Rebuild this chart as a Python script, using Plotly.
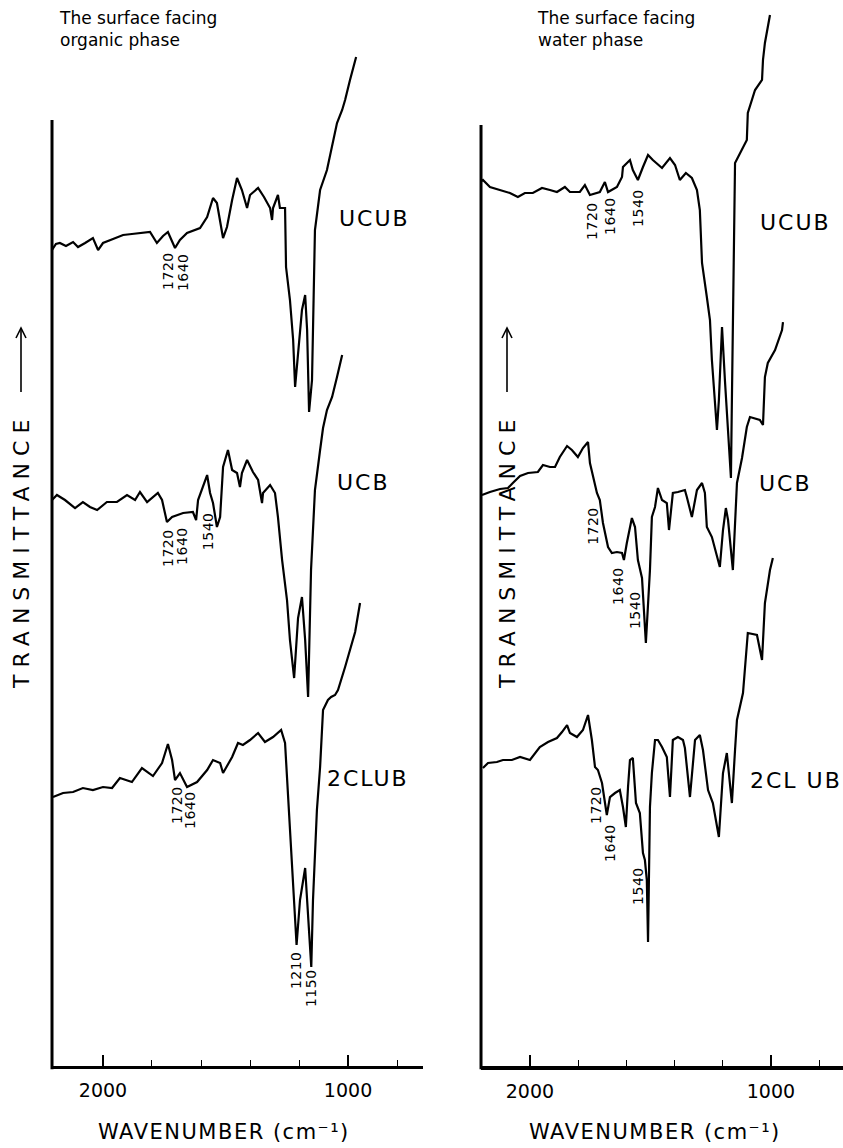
import plotly.graph_objects as go

# ---- IR spectra: wavenumber (cm-1) and transmittance (arbitrary units, curves stacked) ----
# Surface facing the organic phase
org_ucub_wn = [2208, 2192, 2176, 2151, 2122, 2102, 2073, 2041, 2020, 2000, 1959, 1918, 1882, 1849,
               1808, 1780, 1755, 1735, 1706, 1686, 1657, 1604, 1575, 1551, 1535, 1510, 1494, 1473,
               1453, 1433, 1412, 1400, 1367, 1343, 1318, 1310, 1306, 1286, 1278, 1257, 1253, 1237,
               1224, 1216, 1204, 1188, 1175, 1167, 1159, 1147, 1135, 1114, 1086, 1065, 1045, 1024,
               1012, 992, 967]
org_ucub_t = [81.6, 82.2, 82.3, 82.0, 82.4, 81.9, 82.3, 82.8, 81.6, 82.3, 82.7, 83.1, 83.2, 83.3,
              83.4, 82.3, 83.0, 83.4, 81.8, 82.6, 83.3, 83.8, 84.9, 86.8, 86.3, 82.8, 83.9, 86.6,
              88.8, 87.6, 85.8, 87.1, 87.8, 86.9, 85.8, 84.6, 85.8, 87.1, 85.8, 85.8, 79.9, 76.6,
              72.6, 67.9, 71.6, 75.6, 77.1, 73.6, 65.4, 68.6, 83.6, 87.6, 89.6, 91.9, 94.3, 95.6,
              96.6, 98.6, 100.9]

org_ucb_wn = [2208, 2188, 2155, 2114, 2082, 2053, 2024, 1984, 1943, 1902, 1869, 1849, 1820, 1776,
              1759, 1739, 1718, 1673, 1633, 1620, 1612, 1575, 1563, 1551, 1535, 1522, 1510, 1490,
              1473, 1453, 1441, 1433, 1412, 1388, 1367, 1351, 1347, 1318, 1298, 1286, 1269, 1249,
              1237, 1220, 1204, 1188, 1175, 1163, 1151, 1135, 1114, 1102, 1086, 1065, 1045, 1024]
org_ucb_t = [56.6, 57.1, 56.6, 55.8, 56.4, 55.9, 55.6, 56.4, 56.4, 57.1, 56.6, 57.4, 56.4, 57.3,
             56.6, 54.4, 54.9, 55.3, 55.4, 54.6, 56.6, 59.1, 57.3, 56.3, 53.9, 54.9, 59.9, 61.6,
             59.6, 59.3, 57.9, 59.3, 60.6, 59.4, 58.6, 56.3, 57.3, 58.1, 57.3, 54.9, 50.6, 46.6,
             42.6, 38.8, 44.8, 46.9, 42.6, 36.9, 49.6, 57.6, 61.6, 63.8, 65.6, 66.9, 68.9, 71.1]

org_2club_wn = [2204, 2163, 2122, 2082, 2041, 2000, 1963, 1931, 1882, 1841, 1796, 1759, 1735, 1718,
                1706, 1686, 1657, 1616, 1575, 1551, 1522, 1510, 1473, 1449, 1429, 1400, 1367, 1339,
                1306, 1273, 1257, 1245, 1241, 1229, 1210, 1196, 1175, 1167, 1150, 1143, 1127, 1114,
                1102, 1082, 1069, 1053, 1041, 1012, 984, 971, 951]
org_2club_t = [26.9, 27.3, 27.4, 27.8, 27.6, 27.9, 27.8, 28.8, 28.4, 29.8, 29.0, 30.3, 32.2, 30.6,
               28.6, 29.3, 27.9, 28.4, 29.6, 30.6, 30.3, 29.3, 30.9, 32.3, 32.1, 32.6, 33.3, 32.4,
               32.9, 33.6, 32.3, 27.3, 24.6, 19.9, 12.1, 16.6, 19.8, 16.6, 9.9, 16.6, 25.6, 29.9,
               35.6, 36.6, 36.9, 37.1, 37.6, 39.9, 42.4, 43.4, 46.3]

# Surface facing the water phase
wat_ucub_wn = [2207, 2195, 2166, 2124, 2083, 2050, 2021, 1988, 1950, 1917, 1888, 1855, 1834, 1793,
               1772, 1751, 1710, 1689, 1676, 1639, 1618, 1614, 1585, 1573, 1552, 1531, 1510, 1490,
               1452, 1419, 1398, 1378, 1353, 1328, 1307, 1295, 1286, 1266, 1253, 1245, 1224, 1216,
               1203, 1191, 1174, 1166, 1162, 1158, 1149, 1100, 1096, 1066, 1037, 1033, 1025, 1004]
wat_ucub_t = [88.4, 88.6, 87.9, 87.6, 87.3, 86.9, 87.3, 87.3, 87.8, 87.6, 87.4, 87.9, 87.4, 87.4,
              88.1, 87.1, 87.4, 88.4, 87.4, 87.9, 88.9, 89.9, 90.6, 89.6, 88.6, 89.9, 91.1, 90.6,
              89.8, 90.8, 90.1, 88.6, 89.3, 88.8, 87.6, 85.6, 80.3, 76.9, 74.6, 70.6, 63.6, 66.6,
              73.9, 68.6, 62.6, 58.8, 66.6, 75.3, 90.3, 92.6, 95.3, 97.6, 98.6, 100.6, 102.3, 105.1]

wat_ucb_wn = [2199, 2166, 2124, 2091, 2071, 2041, 2008, 1967, 1946, 1917, 1896, 1876, 1846, 1826,
              1801, 1780, 1759, 1751, 1722, 1710, 1697, 1676, 1660, 1639, 1618, 1610, 1598, 1577,
              1564, 1552, 1535, 1531, 1519, 1502, 1494, 1481, 1469, 1452, 1432, 1423, 1407, 1386,
              1357, 1349, 1328, 1307, 1286, 1274, 1266, 1245, 1212, 1199, 1187, 1178, 1158, 1141,
              1120, 1100, 1087, 1046, 1033, 1025, 1013, 983, 954, 950]
wat_ucb_t = [57.1, 57.4, 57.7, 57.8, 58.3, 59.0, 59.3, 59.4, 60.1, 59.9, 59.9, 60.9, 62.0, 61.6,
             60.9, 61.8, 62.4, 60.3, 57.3, 56.6, 54.3, 51.9, 51.3, 51.4, 51.3, 50.6, 52.3, 54.8,
             53.9, 50.6, 48.8, 47.3, 42.3, 49.6, 54.9, 55.9, 57.8, 56.6, 56.3, 53.6, 57.3, 57.4,
             57.6, 56.9, 54.9, 57.6, 58.3, 57.3, 53.9, 52.9, 49.9, 53.6, 55.8, 54.6, 49.6, 58.3,
             60.8, 63.9, 64.9, 64.6, 64.1, 68.9, 70.3, 71.6, 73.6, 74.4]

wat_2club_wn = [2195, 2174, 2137, 2112, 2075, 2041, 2000, 1979, 1959, 1925, 1888, 1867, 1846, 1834,
                1805, 1780, 1759, 1743, 1730, 1718, 1701, 1681, 1668, 1647, 1627, 1614, 1602, 1593,
                1585, 1573, 1560, 1544, 1531, 1523, 1515, 1510, 1502, 1494, 1481, 1469, 1452, 1432,
                1419, 1407, 1386, 1365, 1357, 1336, 1315, 1295, 1282, 1261, 1241, 1216, 1199, 1183,
                1174, 1162, 1149, 1141, 1116, 1100, 1096, 1058, 1037, 1025, 1004, 992]
wat_2club_t = [29.8, 30.3, 30.4, 30.6, 30.6, 30.9, 30.6, 31.3, 31.9, 32.4, 32.8, 33.4, 34.1, 33.3,
               32.9, 33.6, 35.1, 32.6, 29.9, 29.6, 28.3, 25.1, 26.9, 27.3, 27.6, 25.9, 23.9, 27.9,
               30.6, 30.8, 26.3, 25.3, 21.3, 20.6, 18.6, 12.4, 25.9, 29.3, 32.6, 32.6, 31.9, 30.9,
               26.9, 32.6, 32.9, 32.6, 31.8, 26.9, 32.6, 33.1, 31.6, 27.6, 26.3, 22.9, 29.3, 31.3,
               29.3, 26.3, 31.6, 34.6, 37.3, 42.6, 43.3, 43.1, 40.6, 46.3, 49.6, 50.8]

# Band labels: (text, wavenumber position, transmittance position)
org_bands = [("1720", 1735, 79.5), ("1640", 1673, 79.4),
             ("1720", 1735, 51.8), ("1640", 1678, 52.0), ("1540", 1571, 53.5),
             ("1720", 1698, 26.1), ("1640", 1645, 25.6),
             ("1210", 1212, 9.6), ("1150", 1151, 7.8)]
wat_bands = [("1720", 1743, 84.5), ("1640", 1668, 85.0), ("1540", 1552, 85.8),
             ("1720", 1739, 54.0), ("1640", 1635, 48.0), ("1540", 1564, 45.6),
             ("1720", 1726, 26.1), ("1640", 1668, 22.3), ("1540", 1552, 18.0)]

# Sample names placed beside each curve: (name, wavenumber, transmittance)
org_names = [("UCUB", 1045, 84.8), ("UCB", 1053, 58.4), ("2CLUB", 1094, 28.8)]
wat_names = [("UCUB", 1054, 84.4), ("UCB", 1058, 58.3), ("2CL UB", 1096, 28.6)]

FONT = "DejaVu Sans"
INK = "black"
W, H = 843, 1148


def spaced(txt, px):
    return f'<span style="letter-spacing:{px}px">{txt}</span>'


fig = go.Figure()


def add_spectrum(wn, t, xa, ya):
    fig.add_trace(go.Scatter(x=wn, y=t, mode="lines", xaxis=xa, yaxis=ya,
                             line=dict(color=INK, width=2.2), showlegend=False,
                             hoverinfo="skip"))


add_spectrum(org_ucub_wn, org_ucub_t, "x", "y")
add_spectrum(org_ucb_wn, org_ucb_t, "x", "y")
add_spectrum(org_2club_wn, org_2club_t, "x", "y")
add_spectrum(wat_ucub_wn, wat_ucub_t, "x2", "y2")
add_spectrum(wat_ucb_wn, wat_ucb_t, "x2", "y2")
add_spectrum(wat_2club_wn, wat_2club_t, "x2", "y2")


def x_axis(domain, rng, anchor, lw):
    return dict(domain=domain, range=rng, anchor=anchor, showline=True, linecolor=INK,
                linewidth=lw, ticks="inside", tickvals=[2000, 1000], ticktext=["2000", "1000"],
                ticklen=11, tickwidth=1.5, tickcolor=INK, showgrid=False, zeroline=False,
                tickfont=dict(family=FONT, size=19, color=INK), ticklabelstandoff=5,
                minor=dict(tickvals=[1800, 1600, 1400, 1200, 800], ticks="inside", ticklen=6,
                           tickwidth=1.2, tickcolor=INK, showgrid=False))


def y_axis(anchor):
    return dict(domain=[0.0714, 1.0], range=[0, 106.6], anchor=anchor, visible=False,
                showgrid=False, zeroline=False)


annotations = []
for items, xr, yr in ((org_bands, "x", "y"), (wat_bands, "x2", "y2")):
    for txt, wn, t in items:
        annotations.append(dict(text=spaced(txt, 0.5), x=wn, y=t, xref=xr, yref=yr,
                                showarrow=False, textangle=-90,
                                font=dict(family=FONT, size=14, color=INK)))
for items, xr, yr in ((org_names, "x", "y"), (wat_names, "x2", "y2")):
    for txt, wn, t in items:
        annotations.append(dict(text=spaced(txt, 2), x=wn, y=t, xref=xr, yref=yr,
                                showarrow=False, xanchor="left",
                                font=dict(family=FONT, size=22, color=INK)))

# Panel headings
for txt, xp in (("The surface facing<br>organic phase", 0.0676),
                ("The surface facing<br>water phase", 0.6346)):
    annotations.append(dict(text=txt, x=xp, y=0.995, xref="paper", yref="paper",
                            xanchor="left", yanchor="top", align="left", showarrow=False,
                            font=dict(family=FONT, size=17, color=INK)))

# Axis titles
for xp in (224 / W, 655 / W):
    annotations.append(dict(text=spaced("WAVENUMBER (cm⁻¹)", 1.5), x=xp,
                            y=1 - 1132 / H, xref="paper", yref="paper", xanchor="center",
                            yanchor="middle", showarrow=False,
                            font=dict(family=FONT, size=21, color=INK)))

shapes = [
    dict(type="line", xref="x domain", yref="y domain", x0=0, x1=0, y0=-0.003, y1=0.8874,
         line=dict(color=INK, width=3)),
    dict(type="line", xref="x2 domain", yref="y2 domain", x0=0, x1=0, y0=-0.003, y1=0.8827,
         line=dict(color=INK, width=3)),
]

# Vertical "TRANSMITTANCE" titles, each with an upward arrow above it
for xpx in (21, 507):
    annotations.append(dict(text=spaced("TRANSMITTANCE", 7), x=xpx / W, y=1 - 551 / H,
                            xref="paper", yref="paper", xanchor="center", yanchor="middle",
                            showarrow=False, textangle=-90,
                            font=dict(family=FONT, size=22, color=INK)))
    tip, tail = 1 - 328 / H, 1 - 392 / H
    xp = xpx / W
    shapes.append(dict(type="line", xref="paper", yref="paper", x0=xp, x1=xp, y0=tail, y1=tip,
                       line=dict(color=INK, width=1.6)))
    shapes.append(dict(type="path", xref="paper", yref="paper",
                       path=f"M {xp - 5 / W} {tip - 10 / H} L {xp} {tip} L {xp + 5 / W} {tip - 10 / H}",
                       line=dict(color=INK, width=1.6)))

fig.update_layout(
    width=W, height=H,
    margin=dict(l=0, r=0, t=0, b=0),
    paper_bgcolor="white", plot_bgcolor="white",
    xaxis=x_axis([0.0617, 0.5018], [2208, 694], "y", 2.5),
    yaxis=y_axis("x"),
    xaxis2=x_axis([0.5706, 1.0], [2203, 701], "y2", 3.5),
    yaxis2=y_axis("x2"),
    annotations=annotations,
    shapes=shapes,
    showlegend=False,
)

fig.write_html("out.html")
